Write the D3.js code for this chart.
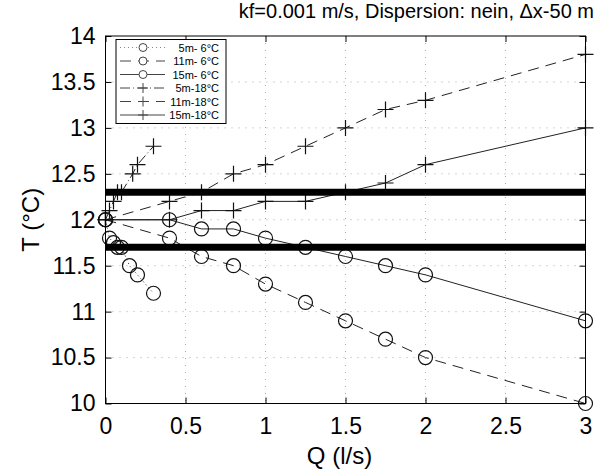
<!DOCTYPE html>
<html>
<head>
<meta charset="utf-8">
<script src="https://cdn.jsdelivr.net/npm/d3@7"></script>
<style>
  body { margin: 0; background: #fff; }
  svg { display: block; font-family: "Liberation Sans", Arial, sans-serif; }
</style>
</head>
<body>
<script>
/***** Data *****/
var qShort6 = [0, 0.025, 0.05, 0.075, 0.1, 0.15, 0.2, 0.3];
var t5m6 = [12, 11.8, 11.75, 11.7, 11.7, 11.5, 11.4, 11.2];
var qShort18 = [0, 0.025, 0.05, 0.075, 0.1, 0.17, 0.2, 0.3];
var t5m18 = [12, 12.1, 12.2, 12.3, 12.3, 12.5, 12.6, 12.8];
var qLong = [0, 0.4, 0.6, 0.8, 1, 1.25, 1.5, 1.75, 2, 3];
var t11m6 = [12, 11.8, 11.6, 11.5, 11.3, 11.1, 10.9, 10.7, 10.5, 10.0];
var t15m6 = [12, 12, 11.9, 11.9, 11.8, 11.7, 11.6, 11.5, 11.4, 10.9];
var t11m18 = [12, 12.2, 12.3, 12.5, 12.6, 12.8, 13.0, 13.2, 13.3, 13.8];
var t15m18 = [12, 12, 12.1, 12.1, 12.2, 12.2, 12.3, 12.4, 12.6, 13.0];
var limits = [11.7, 12.3];
var xTicks = [0, 0.5, 1, 1.5, 2, 2.5, 3];
var yTicks = [10, 10.5, 11, 11.5, 12, 12.5, 13, 13.5, 14];
var seriesNames = ["5m- 6°C", "11m- 6°C", "15m- 6°C", "5m-18°C", "11m-18°C", "15m-18°C"];

var series = [
  { name: seriesNames[0], q: qShort6, t: t5m6, dash: "1,3", marker: "o" },
  { name: seriesNames[1], q: qLong, t: t11m6, dash: "11,7", marker: "o" },
  { name: seriesNames[2], q: qLong, t: t15m6, dash: null, marker: "o" },
  { name: seriesNames[3], q: qShort18, t: t5m18, dash: "10,3,1,3", marker: "+" },
  { name: seriesNames[4], q: qLong, t: t11m18, dash: "11,7", marker: "+" },
  { name: seriesNames[5], q: qLong, t: t15m18, dash: null, marker: "+" }
];

/***** Layout *****/
var W = 598, H = 473;
var plot = { left: 105.5, right: 585.5, top: 36, bottom: 403.5 };

var x = d3.scaleLinear().domain([0, 3]).range([plot.left, plot.right]);
var y = d3.scaleLinear().domain([10, 14]).range([plot.bottom, plot.top]);

var svg = d3.select("body").append("svg").attr("width", W).attr("height", H);

/***** Grid *****/
var grid = svg.append("g").attr("stroke", "#aaa").attr("stroke-width", 1).attr("stroke-dasharray", "1,6");
grid.selectAll(".gx").data(xTicks.slice(1, -1)).enter().append("line")
  .attr("x1", function (d) { return x(d); }).attr("x2", function (d) { return x(d); })
  .attr("y1", plot.top).attr("y2", plot.bottom);
grid.selectAll(".gy").data(yTicks.slice(1, -1)).enter().append("line")
  .attr("y1", function (d) { return y(d); }).attr("y2", function (d) { return y(d); })
  .attr("x1", plot.left).attr("x2", plot.right);

/***** Axes (ticks inward, box) *****/
var tickLen = 6;
var axisFont = 23;
var xAxis = d3.axisBottom(x).tickValues(xTicks).tickSizeInner(-tickLen).tickSizeOuter(0).tickPadding(tickLen + 8).tickFormat(d3.format("~g"));
var yAxis = d3.axisLeft(y).tickValues(yTicks).tickSizeInner(-tickLen).tickSizeOuter(0).tickPadding(tickLen + 4).tickFormat(d3.format("~g"));
var xTop = d3.axisTop(x).tickValues(xTicks).tickSizeInner(-tickLen).tickSizeOuter(0).tickFormat("");
var yRight = d3.axisRight(y).tickValues(yTicks).tickSizeInner(-tickLen).tickSizeOuter(0).tickFormat("");

function styleAxis(g) {
  g.select(".domain").remove();
  g.selectAll("line").attr("stroke", "#000");
  g.selectAll("text").attr("fill", "#000").style("font-size", axisFont + "px").style("font-family", "Liberation Sans, Arial, sans-serif");
}
svg.append("g").attr("transform", "translate(0," + plot.bottom + ")").call(xAxis).call(styleAxis);
svg.append("g").attr("transform", "translate(" + plot.left + ",0)").call(yAxis).call(styleAxis);
svg.append("g").attr("transform", "translate(0," + plot.top + ")").call(xTop).call(styleAxis);
svg.append("g").attr("transform", "translate(" + plot.right + ",0)").call(yRight).call(styleAxis);

/***** Series *****/
var line = d3.line().x(function (d) { return x(d[0]); }).y(function (d) { return y(d[1]); });
var plotG = svg.append("g");

function drawMarker(g, px, py, type) {
  if (type === "o") {
    g.append("circle").attr("cx", px).attr("cy", py).attr("r", 7)
      .attr("fill", "none").attr("stroke", "#111").attr("stroke-width", 1.2);
  } else {
    g.append("path").attr("d", "M" + (px - 8) + "," + py + "H" + (px + 8) + "M" + px + "," + (py - 8) + "V" + (py + 8))
      .attr("fill", "none").attr("stroke", "#111").attr("stroke-width", 1.2);
  }
}

series.forEach(function (s) {
  var pts = s.q.map(function (q, i) { return [q, s.t[i]]; });
  plotG.append("path").datum(pts).attr("d", line)
    .attr("fill", "none").attr("stroke", "#222").attr("stroke-width", 1)
    .attr("stroke-dasharray", s.dash);
  pts.forEach(function (p) { drawMarker(plotG, x(p[0]), y(p[1]), s.marker); });
});

/***** Limit lines *****/
svg.append("g").selectAll("line").data(limits).enter().append("line")
  .attr("x1", plot.left).attr("x2", plot.right)
  .attr("y1", function (d) { return y(d); }).attr("y2", function (d) { return y(d); })
  .attr("stroke", "#000").attr("stroke-width", 7);

/***** Box *****/
svg.append("rect").attr("x", plot.left).attr("y", plot.top)
  .attr("width", plot.right - plot.left).attr("height", plot.bottom - plot.top)
  .attr("fill", "none").attr("stroke", "#000").attr("stroke-width", 1);

/***** Legend *****/
var leg = svg.append("g");
leg.append("rect").attr("x", 116).attr("y", 39.5).attr("width", 110).attr("height", 84)
  .attr("fill", "#fff").attr("stroke", "#000").attr("stroke-width", 1);
series.forEach(function (s, i) {
  var ly = 47.5 + i * 13.5;
  var row = leg.append("g");
  row.append("line").attr("x1", 120).attr("x2", 165).attr("y1", ly).attr("y2", ly)
    .attr("stroke", s.dash === "1,3" ? "#888" : "#444").attr("stroke-width", 1).attr("stroke-dasharray", s.dash);
  if (s.marker === "o") {
    row.append("circle").attr("cx", 143).attr("cy", ly).attr("r", 4).attr("fill", "#fff").attr("stroke", "#444");
  } else {
    row.append("path").attr("d", "M138," + ly + "H148M143," + (ly - 5) + "V" + (ly + 5)).attr("stroke", "#444");
  }
  row.append("text").attr("x", 219).attr("y", ly + 4).attr("text-anchor", "end")
    .style("font-size", "11px").text(s.name);
});

/***** Titles *****/
svg.append("text").attr("x", 594).attr("y", 18).attr("text-anchor", "end")
  .style("font-size", "20px").text("kf=0.001 m/s, Dispersion: nein, \u0394x-50 m");
svg.append("text").attr("x", (plot.left + plot.right) / 2 - 6).attr("y", 464).attr("text-anchor", "middle")
  .style("font-size", "24px").text("Q (l/s)");
svg.append("text").attr("transform", "translate(39," + ((plot.top + plot.bottom) / 2) + ") rotate(-90)")
  .attr("text-anchor", "middle").style("font-size", "24px").text("T (°C)");
</script>
</body>
</html>
